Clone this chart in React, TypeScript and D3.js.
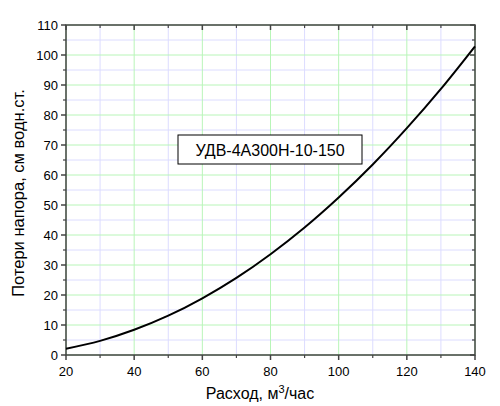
import React from "react";
import * as d3 from "d3";

const flowValues = [20, 30, 40, 50, 60, 70, 80, 90, 100, 110, 120, 130, 140];
const lossValues = [2.1, 4.7, 8.4, 13.1, 18.9, 25.7, 33.6, 42.5, 52.5, 63.5, 75.6, 88.7, 102.9];
const xTicks = [20, 40, 60, 80, 100, 120, 140];
const xMinor = [30, 50, 70, 90, 110, 130];
const yTicks = [0, 10, 20, 30, 40, 50, 60, 70, 80, 90, 100, 110];
const yMinor = [5, 15, 25, 35, 45, 55, 65, 75, 85, 95, 105];
const label = "УДВ-4А300Н-10-150";

export default function App() {
  const W = 500, H = 406;
  const left = 66, right = 475, top = 25, bottom = 355;
  const x = d3.scaleLinear().domain([20, 140]).range([left, right]);
  const y = d3.scaleLinear().domain([0, 110]).range([bottom, top]);
  const pts = flowValues.map((f, i) => [f, lossValues[i]] as [number, number]);
  const line = d3.line<[number, number]>().x(d => x(d[0])).y(d => y(d[1])).curve(d3.curveMonotoneX);
  const axisColor = "#444";
  const font = "Liberation Sans, Arial, sans-serif";
  return (
    <svg width={W} height={H} style={{ position: "absolute", left: 0, top: 0 }} fontFamily={font}>
      <rect x={0} y={0} width={W} height={H} fill="#fff" />
      {/* minor grid */}
      {xMinor.map(v => <line key={"xm" + v} x1={x(v)} x2={x(v)} y1={top} y2={bottom} stroke="#dcdcff" strokeWidth={1} />)}
      {yMinor.map(v => <line key={"ym" + v} x1={left} x2={right} y1={y(v)} y2={y(v)} stroke="#dcdcff" strokeWidth={1} />)}
      {/* major grid */}
      {xTicks.map(v => <line key={"xg" + v} x1={x(v)} x2={x(v)} y1={top} y2={bottom} stroke="#b8f5b8" strokeWidth={1} />)}
      {yTicks.map(v => <line key={"yg" + v} x1={left} x2={right} y1={y(v)} y2={y(v)} stroke="#b8f5b8" strokeWidth={1} />)}
      {/* frame */}
      <rect x={left} y={top} width={right - left} height={bottom - top} fill="none" stroke={axisColor} strokeWidth={1.5} />
      {/* bottom & top ticks */}
      {xTicks.map(v => (
        <g key={"xt" + v}>
          <line x1={x(v)} x2={x(v)} y1={bottom} y2={bottom + 5} stroke={axisColor} strokeWidth={1.5} />
          <line x1={x(v)} x2={x(v)} y1={top} y2={top + 5} stroke={axisColor} strokeWidth={1.5} />
          <text x={x(v)} y={bottom + 21} textAnchor="middle" fontSize={13} fill="#000">{v}</text>
        </g>
      ))}
      {xMinor.map(v => (
        <g key={"xmt" + v}>
          <line x1={x(v)} x2={x(v)} y1={bottom} y2={bottom + 3} stroke={axisColor} strokeWidth={1.2} />
          <line x1={x(v)} x2={x(v)} y1={top} y2={top + 3} stroke={axisColor} strokeWidth={1.2} />
        </g>
      ))}
      {yTicks.map(v => (
        <g key={"yt" + v}>
          <line x1={left - 5} x2={left} y1={y(v)} y2={y(v)} stroke={axisColor} strokeWidth={1.5} />
          <line x1={right - 5} x2={right} y1={y(v)} y2={y(v)} stroke={axisColor} strokeWidth={1.5} />
          <text x={left - 8} y={y(v) + 4.5} textAnchor="end" fontSize={13} fill="#000">{v}</text>
        </g>
      ))}
      {yMinor.map(v => (
        <g key={"ymt" + v}>
          <line x1={left - 3} x2={left} y1={y(v)} y2={y(v)} stroke={axisColor} strokeWidth={1.2} />
          <line x1={right - 3} x2={right} y1={y(v)} y2={y(v)} stroke={axisColor} strokeWidth={1.2} />
        </g>
      ))}
      {/* curve */}
      <path d={line(pts) || ""} fill="none" stroke="#000" strokeWidth={2} />
      {/* annotation */}
      <rect x={178} y={135} width={184} height={29} fill="#fff" stroke="#000" strokeWidth={1} />
      <text x={270} y={155.5} textAnchor="middle" fontSize={16} fill="#000">{label}</text>
      {/* axis titles */}
      <text x={260} y={399} textAnchor="middle" fontSize={16} fill="#000">
        Расход, м<tspan dy={-6} fontSize={11}>3</tspan><tspan dy={6}>/час</tspan>
      </text>
      <text transform={`translate(24, 193) rotate(-90)`} textAnchor="middle" fontSize={16.5} fill="#000">
        Потери напора, см водн.ст.
      </text>
    </svg>
  );
}
